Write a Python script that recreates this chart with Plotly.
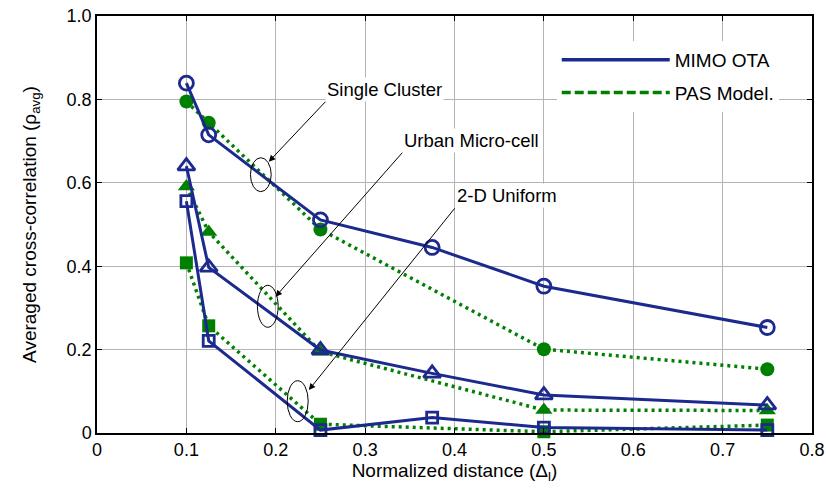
import plotly.graph_objects as go

# Normalized distances at which each curve was evaluated
x_mimo = [0.1, 0.125, 0.25, 0.375, 0.5, 0.75]
x_pas = [0.1, 0.125, 0.25, 0.5, 0.75]

# MIMO OTA averaged cross-correlation
mimo_single = [0.839, 0.715, 0.511, 0.445, 0.352, 0.253]
mimo_urban = [0.640, 0.397, 0.199, 0.143, 0.091, 0.067]
mimo_2d = [0.556, 0.221, 0.007, 0.037, 0.013, 0.007]

# PAS model averaged cross-correlation
pas_single = [0.795, 0.744, 0.488, 0.201, 0.153]
pas_urban = [0.591, 0.482, 0.195, 0.055, 0.054]
pas_2d = [0.408, 0.257, 0.021, 0.003, 0.019]

x_ticks = [0, 0.1, 0.2, 0.3, 0.4, 0.5, 0.6, 0.7, 0.8]
x_ticktext = ["0", "0.1", "0.2", "0.3", "0.4", "0.5", "0.6", "0.7", "0.8"]
y_ticks = [0, 0.2, 0.4, 0.6, 0.8, 1.0]
y_ticktext = ["0", "0.2", "0.4", "0.6", "0.8", "1.0"]

BLUE = "#1c2a8e"
GREEN = "#008000"
FONT = "Liberation Sans, Arial, sans-serif"

fig = go.Figure()

# PAS model curves (dotted, filled markers) drawn underneath
for ys, sym, size in [(pas_single, "circle", 14),
                      (pas_urban, "triangle-up", 15),
                      (pas_2d, "square", 13)]:
    fig.add_trace(go.Scatter(
        x=x_pas, y=ys, mode="lines+markers", showlegend=False,
        line=dict(color=GREEN, width=3.5, dash="3px,4px"),
        marker=dict(symbol=sym, size=size, color=GREEN),
        cliponaxis=False))

# MIMO OTA curves (solid, open markers)
for ys, sym, size in [(mimo_single, "circle-open", 14),
                      (mimo_urban, "triangle-up-open", 15),
                      (mimo_2d, "square-open", 11)]:
    fig.add_trace(go.Scatter(
        x=x_mimo, y=ys, mode="lines+markers", showlegend=False,
        line=dict(color=BLUE, width=3),
        marker=dict(symbol=sym, size=size, color=BLUE,
                    line=dict(color=BLUE, width=2.8)),
        cliponaxis=False))

# Legend entries (line samples only)
fig.add_trace(go.Scatter(x=[None], y=[None], mode="lines", name="MIMO OTA",
                         legendgroup="a",
                         line=dict(color=BLUE, width=3.5)))
fig.add_trace(go.Scatter(x=[None], y=[None], mode="lines", name="PAS Model.",
                         legendgroup="b",
                         line=dict(color=GREEN, width=3.5, dash="9px,4px")))

# Ellipses grouping each pair of curves
ellipses = [
    (0.1717, 0.1949, 0.5787, 0.6602),
    (0.1795, 0.2027, 0.2535, 0.3542),
    (0.2128, 0.2363, 0.0271, 0.1254),
]
for x0, x1, y0, y1 in ellipses:
    fig.add_shape(type="circle", xref="x", yref="y", x0=x0, x1=x1, y0=y0, y1=y1,
                  line=dict(color="black", width=1))

# Labels; each arrow runs from the label's lower-left corner to its ellipse
labels = [
    ("Single Cluster", 0.2556, 0.7945, 0.1922, 0.6506),
    ("Urban Micro-cell", 0.3416, 0.6722, 0.1997, 0.3269),
    ("2-D Uniform", 0.4002, 0.5388, 0.2370, 0.1031),
]
for text, ax, ay, hx, hy in labels:
    fig.add_annotation(x=hx, y=hy, ax=ax, ay=ay, xref="x", yref="y",
                       axref="x", ayref="y", text=text, showarrow=True,
                       xanchor="left", yanchor="bottom",
                       arrowhead=2, arrowsize=1.3, arrowwidth=1,
                       arrowcolor="black", bgcolor="white", borderpad=1,
                       font=dict(family=FONT, size=18.5, color="black"))

axis_common = dict(
    showline=True, linecolor="black", linewidth=1.5, mirror="ticks",
    ticks="inside", ticklen=5, tickcolor="black",
    showgrid=True, gridcolor="#b4b4b4", gridwidth=1,
    zeroline=False, automargin=False,
    tickfont=dict(family=FONT, size=18, color="black"),
)

fig.update_layout(
    width=826, height=494,
    margin=dict(l=97, r=14, t=16, b=61),
    paper_bgcolor="white", plot_bgcolor="white",
    font=dict(family=FONT, size=18, color="black"),
    xaxis=dict(range=[0, 0.8], tickvals=x_ticks, ticktext=x_ticktext,
               title=dict(text="Normalized distance (Δ<sub>l</sub>)",
                          font=dict(family=FONT, size=19), standoff=3),
               **axis_common),
    yaxis=dict(range=[0, 1.0], tickvals=y_ticks, ticktext=y_ticktext,
               title=dict(text="Averaged cross-correlation (ρ<sub>avg</sub>)",
                          font=dict(family=FONT, size=19), standoff=25),
               **axis_common),
    legend=dict(x=0.643, y=0.94, xanchor="left", yanchor="top",
                bgcolor="white", borderwidth=0, itemwidth=108,
                traceorder="grouped", tracegroupgap=5,
                font=dict(family=FONT, size=19, color="black")),
)

fig.write_html("out.html")
